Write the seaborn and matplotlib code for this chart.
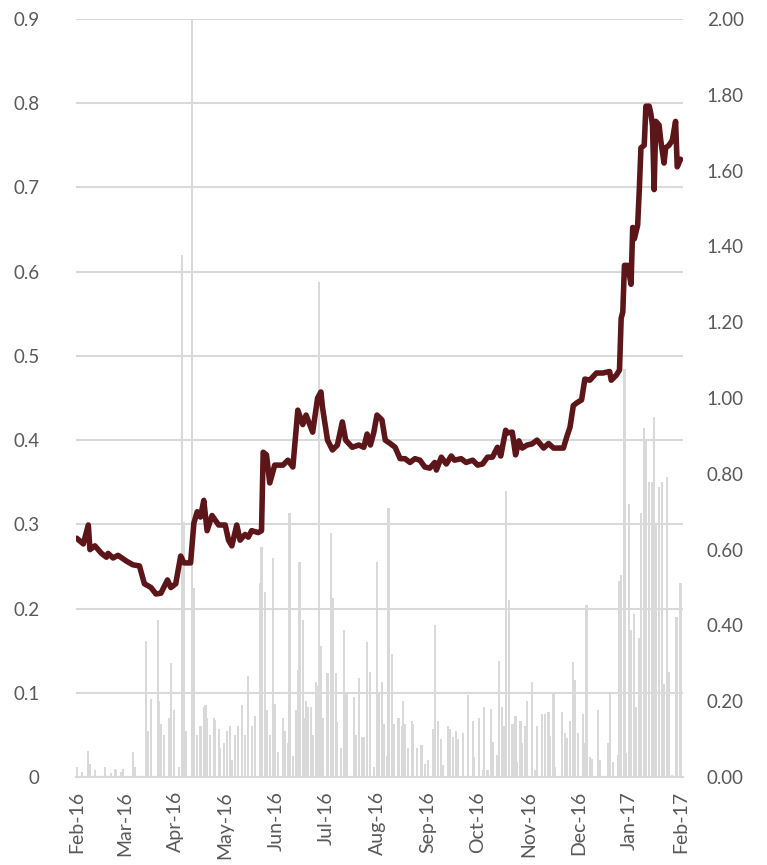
import pandas as pd
import matplotlib.pyplot as plt
import matplotlib.dates as mdates
import seaborn as sns

# Daily bars (left axis)
bar_dates = [
    '2016-02-01', '2016-02-04', '2016-02-08', '2016-02-09', '2016-02-12', '2016-02-18',
    '2016-02-22', '2016-02-24', '2016-02-25', '2016-02-28', '2016-02-29', '2016-03-06',
    '2016-03-07', '2016-03-14', '2016-03-15', '2016-03-17', '2016-03-21', '2016-03-22',
    '2016-03-23', '2016-03-25', '2016-03-28', '2016-03-29', '2016-03-31', '2016-04-03',
    '2016-04-05', '2016-04-06', '2016-04-07', '2016-04-11', '2016-04-12', '2016-04-14',
    '2016-04-16', '2016-04-18', '2016-04-19', '2016-04-20', '2016-04-22', '2016-04-24',
    '2016-04-25', '2016-04-27', '2016-04-28', '2016-04-30', '2016-05-02', '2016-05-04',
    '2016-05-05', '2016-05-07', '2016-05-09', '2016-05-11', '2016-05-13', '2016-05-15',
    '2016-05-17', '2016-05-19', '2016-05-22', '2016-05-23', '2016-05-25', '2016-05-26',
    '2016-05-28', '2016-05-30', '2016-05-31', '2016-06-02', '2016-06-05', '2016-06-06',
    '2016-06-08', '2016-06-09', '2016-06-11', '2016-06-13', '2016-06-14', '2016-06-15',
    '2016-06-17', '2016-06-18', '2016-06-19', '2016-06-20', '2016-06-22', '2016-06-23',
    '2016-06-25', '2016-06-26', '2016-06-27', '2016-06-28', '2016-06-29', '2016-07-02',
    '2016-07-04', '2016-07-05', '2016-07-07', '2016-07-08', '2016-07-10', '2016-07-12',
    '2016-07-13', '2016-07-14', '2016-07-18', '2016-07-19', '2016-07-21', '2016-07-23',
    '2016-07-24', '2016-07-26', '2016-07-28', '2016-07-30', '2016-08-01', '2016-08-02',
    '2016-08-04', '2016-08-05', '2016-08-07', '2016-08-08', '2016-08-10', '2016-08-11',
    '2016-08-14', '2016-08-16', '2016-08-17', '2016-08-18', '2016-08-20', '2016-08-22',
    '2016-08-23', '2016-08-25', '2016-08-28', '2016-08-30', '2016-09-01', '2016-09-04',
    '2016-09-05', '2016-09-07', '2016-09-09', '2016-09-10', '2016-09-13', '2016-09-14',
    '2016-09-16', '2016-09-18', '2016-09-19', '2016-09-22', '2016-09-25', '2016-09-28',
    '2016-09-29', '2016-10-02', '2016-10-04', '2016-10-05', '2016-10-07', '2016-10-09',
    '2016-10-10', '2016-10-13', '2016-10-14', '2016-10-16', '2016-10-17', '2016-10-18',
    '2016-10-20', '2016-10-22', '2016-10-23', '2016-10-24', '2016-10-25', '2016-10-27',
    '2016-10-28', '2016-10-30', '2016-10-31', '2016-11-03', '2016-11-05', '2016-11-06',
    '2016-11-09', '2016-11-11', '2016-11-13', '2016-11-14', '2016-11-16', '2016-11-17',
    '2016-11-21', '2016-11-23', '2016-11-24', '2016-11-26', '2016-11-28', '2016-11-29',
    '2016-12-01', '2016-12-04', '2016-12-05', '2016-12-06', '2016-12-08', '2016-12-09',
    '2016-12-13', '2016-12-14', '2016-12-19', '2016-12-20', '2016-12-22', '2016-12-25',
    '2016-12-26', '2016-12-27', '2016-12-29', '2016-12-30', '2017-01-01', '2017-01-02',
    '2017-01-04', '2017-01-05', '2017-01-07', '2017-01-08', '2017-01-10', '2017-01-11',
    '2017-01-13', '2017-01-15', '2017-01-16', '2017-01-17', '2017-01-19', '2017-01-21',
    '2017-01-22', '2017-01-24', '2017-01-25', '2017-01-27', '2017-01-29', '2017-01-30',
    '2017-02-01',
]
bar_values = [
    0.012, 0.006, 0.031, 0.015, 0.008, 0.012,
    0.005, 0.010, 0.008, 0.006, 0.010, 0.030,
    0.012, 0.162, 0.055, 0.093, 0.186, 0.090,
    0.063, 0.050, 0.070, 0.135, 0.080, 0.012,
    0.620, 0.303, 0.055, 0.950, 0.224, 0.050,
    0.060, 0.083, 0.085, 0.070, 0.050, 0.070,
    0.068, 0.057, 0.035, 0.040, 0.055, 0.060,
    0.020, 0.050, 0.060, 0.085, 0.050, 0.120,
    0.060, 0.073, 0.230, 0.273, 0.220, 0.080,
    0.050, 0.260, 0.087, 0.030, 0.070, 0.055,
    0.040, 0.313, 0.025, 0.080, 0.127, 0.255,
    0.186, 0.070, 0.090, 0.083, 0.083, 0.050,
    0.113, 0.108, 0.588, 0.156, 0.070, 0.123,
    0.290, 0.213, 0.123, 0.065, 0.035, 0.174,
    0.100, 0.100, 0.095, 0.050, 0.117, 0.048,
    0.048, 0.160, 0.125, 0.012, 0.255, 0.100,
    0.113, 0.063, 0.025, 0.320, 0.146, 0.063,
    0.070, 0.060, 0.090, 0.063, 0.035, 0.066,
    0.063, 0.035, 0.038, 0.016, 0.020, 0.057,
    0.180, 0.066, 0.045, 0.014, 0.061, 0.057,
    0.048, 0.055, 0.045, 0.052, 0.097, 0.067,
    0.024, 0.070, 0.008, 0.083, 0.008, 0.081,
    0.042, 0.026, 0.138, 0.083, 0.060, 0.340,
    0.210, 0.063, 0.063, 0.073, 0.018, 0.067,
    0.040, 0.060, 0.090, 0.113, 0.008, 0.060,
    0.075, 0.075, 0.077, 0.049, 0.100, 0.012,
    0.077, 0.052, 0.046, 0.067, 0.136, 0.115,
    0.052, 0.075, 0.040, 0.204, 0.024, 0.022,
    0.080, 0.020, 0.040, 0.100, 0.018, 0.026,
    0.233, 0.240, 0.485, 0.028, 0.324, 0.174,
    0.194, 0.083, 0.165, 0.313, 0.414, 0.400,
    0.350, 0.350, 0.427, 0.300, 0.344, 0.350,
    0.110, 0.356, 0.125, 0.003, 0.190, 0.190,
    0.230,
]

# Line series (right axis)
line_dates = [
    '2016-02-01', '2016-02-05', '2016-02-08', '2016-02-09', '2016-02-12', '2016-02-16',
    '2016-02-19', '2016-02-20', '2016-02-23', '2016-02-26', '2016-03-02', '2016-03-06',
    '2016-03-10', '2016-03-13', '2016-03-17', '2016-03-20', '2016-03-23', '2016-03-27',
    '2016-03-29', '2016-04-01', '2016-04-04', '2016-04-06', '2016-04-10', '2016-04-12',
    '2016-04-14', '2016-04-16', '2016-04-18', '2016-04-20', '2016-04-23', '2016-04-27',
    '2016-05-01', '2016-05-03', '2016-05-05', '2016-05-08', '2016-05-10', '2016-05-13',
    '2016-05-15', '2016-05-17', '2016-05-21', '2016-05-23', '2016-05-24', '2016-05-26',
    '2016-05-28', '2016-05-31', '2016-06-05', '2016-06-08', '2016-06-11', '2016-06-14',
    '2016-06-17', '2016-06-19', '2016-06-23', '2016-06-26', '2016-06-28', '2016-06-29',
    '2016-07-02', '2016-07-05', '2016-07-08', '2016-07-11', '2016-07-13', '2016-07-17',
    '2016-07-21', '2016-07-24', '2016-07-26', '2016-07-28', '2016-07-30', '2016-08-01',
    '2016-08-04', '2016-08-06', '2016-08-09', '2016-08-12', '2016-08-15', '2016-08-18',
    '2016-08-21', '2016-08-24', '2016-08-27', '2016-08-30', '2016-09-02', '2016-09-05',
    '2016-09-06', '2016-09-09', '2016-09-12', '2016-09-15', '2016-09-17', '2016-09-21',
    '2016-09-24', '2016-09-28', '2016-10-01', '2016-10-04', '2016-10-07', '2016-10-10',
    '2016-10-13', '2016-10-15', '2016-10-18', '2016-10-19', '2016-10-22', '2016-10-24',
    '2016-10-26', '2016-10-28', '2016-10-31', '2016-11-03', '2016-11-06', '2016-11-10',
    '2016-11-13', '2016-11-16', '2016-11-19', '2016-11-22', '2016-11-24', '2016-11-26',
    '2016-11-28', '2016-11-30', '2016-12-03', '2016-12-05', '2016-12-08', '2016-12-12',
    '2016-12-16', '2016-12-20', '2016-12-21', '2016-12-24', '2016-12-26', '2016-12-27',
    '2016-12-28', '2016-12-29', '2016-12-31', '2017-01-02', '2017-01-03', '2017-01-04',
    '2017-01-06', '2017-01-07', '2017-01-08', '2017-01-10', '2017-01-11', '2017-01-13',
    '2017-01-14', '2017-01-15', '2017-01-16', '2017-01-17', '2017-01-19', '2017-01-20',
    '2017-01-22', '2017-01-23', '2017-01-25', '2017-01-27', '2017-01-29', '2017-01-30',
    '2017-02-01',
]
line_values = [
    0.630, 0.615, 0.665, 0.600, 0.610, 0.590,
    0.580, 0.590, 0.578, 0.585, 0.570, 0.560,
    0.557, 0.510, 0.500, 0.483, 0.485, 0.520,
    0.500, 0.510, 0.583, 0.565, 0.565, 0.670,
    0.700, 0.686, 0.730, 0.650, 0.690, 0.665,
    0.665, 0.625, 0.610, 0.665, 0.625, 0.640,
    0.633, 0.650, 0.645, 0.650, 0.857, 0.850,
    0.776, 0.823, 0.823, 0.836, 0.818, 0.968,
    0.930, 0.955, 0.910, 1.000, 1.016, 0.974,
    0.889, 0.863, 0.876, 0.937, 0.889, 0.870,
    0.876, 0.870, 0.905, 0.876, 0.908, 0.955,
    0.942, 0.889, 0.880, 0.870, 0.840, 0.840,
    0.830, 0.840, 0.836, 0.818, 0.815, 0.830,
    0.810, 0.844, 0.826, 0.847, 0.836, 0.840,
    0.830, 0.836, 0.823, 0.826, 0.844, 0.844,
    0.870, 0.847, 0.915, 0.908, 0.910, 0.850,
    0.887, 0.868, 0.876, 0.879, 0.889, 0.868,
    0.880, 0.868, 0.868, 0.868, 0.897, 0.923,
    0.980, 0.987, 0.995, 1.050, 1.047, 1.066,
    1.066, 1.070, 1.047, 1.060, 1.074, 1.210,
    1.227, 1.350, 1.350, 1.300, 1.450, 1.420,
    1.456, 1.550, 1.660, 1.667, 1.770, 1.770,
    1.750, 1.720, 1.550, 1.730, 1.720, 1.680,
    1.620, 1.660, 1.667, 1.680, 1.730, 1.610,
    1.630,
]

bars = pd.DataFrame({'date': pd.to_datetime(bar_dates), 'value': bar_values})
line = pd.DataFrame({'date': pd.to_datetime(line_dates), 'value': line_values})

sns.set_style('white')
plt.rcParams['font.family'] = ['Lato', 'DejaVu Sans']

grey_text = '#595959'
grid_grey = '#D9D9D9'

fig = plt.figure(figsize=(7.67, 8.65), dpi=100)
ax = fig.add_axes([0.099, 0.1017, 0.7915, 0.8763])

# grey daily bars on the left axis
ax.bar(bars['date'], bars['value'], width=1.3, color=grid_grey, linewidth=0)
ax.set_ylim(0, 0.9)
ax.set_yticks([i / 10 for i in range(10)])
ax.set_yticklabels(['0'] + [f'{i / 10:.1f}' for i in range(1, 10)])
ax.yaxis.grid(True, color=grid_grey, linewidth=1.5)
ax.set_axisbelow(True)

# dark red line on the right axis
ax2 = ax.twinx()
sns.lineplot(data=line, x='date', y='value', ax=ax2, color='#5C1519',
             linewidth=4.0, solid_joinstyle='round', solid_capstyle='round')
ax2.set_ylim(0, 2.0)
ax2.set_yticks([i / 5 for i in range(11)])
ax2.set_yticklabels([f'{i / 5:.2f}' for i in range(11)])
ax2.set_xlabel('')
ax2.set_ylabel('')

ax.set_xlim(pd.Timestamp('2016-01-31 12:00'), pd.Timestamp('2017-02-02 12:00'))
ax.xaxis.set_major_locator(mdates.MonthLocator())
ax.xaxis.set_major_formatter(mdates.DateFormatter('%b-%y'))

for a in (ax, ax2):
    for side in ('top', 'left', 'right', 'bottom'):
        a.spines[side].set_visible(False)

ax.spines['bottom'].set_visible(True)
ax.spines['bottom'].set_color(grid_grey)
ax.spines['bottom'].set_linewidth(1.5)

ax.tick_params(axis='x', which='major', length=6, width=1.5, color=grid_grey,
               labelsize=14, labelcolor=grey_text, labelrotation=90, pad=4)
ax.tick_params(axis='y', length=0, labelsize=13.5, labelcolor=grey_text, pad=26)
ax2.tick_params(axis='y', length=0, labelsize=13.5, labelcolor=grey_text, pad=17)

plt.savefig('out.png', dpi=100)
